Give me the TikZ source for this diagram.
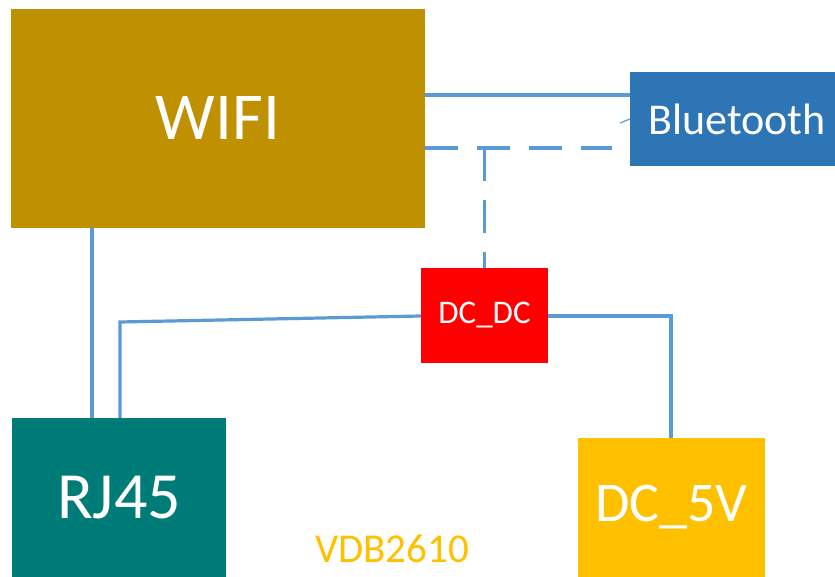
\documentclass[tikz,border=0pt]{standalone}
\usepackage{fontspec}
\setmainfont{Carlito}
\definecolor{wific}{HTML}{BF9000}
\definecolor{btc}{HTML}{2E75B6}
\definecolor{dcdcc}{HTML}{FF0000}
\definecolor{rjc}{HTML}{007C78}
\definecolor{fivec}{HTML}{FFC000}
\definecolor{linec}{HTML}{5B9BD5}
\tikzset{
  blk/.style={rectangle,inner sep=0pt,draw=none,text=white},
  wire/.style={draw=linec,line width=3.2pt},
  dwire/.style={wire,dash pattern=on 33pt off 19pt}
}
\begin{document}
\begin{tikzpicture}[x=1pt,y=-1pt]
\useasboundingbox[fill=white] (0,0) rectangle (835,577);
\node[blk,fill=wific,minimum width=414pt,minimum height=219pt,font=\fontsize{67}{72}\selectfont] (wifi) at (218,118.5) {WIFI};
\node[blk,fill=btc,minimum width=205pt,minimum height=94pt,font=\fontsize{44}{50}\selectfont] (bt) at (732.5,119) {\hspace*{9pt}Bluetooth};
\node[blk,fill=dcdcc,minimum width=127pt,minimum height=95pt,font=\fontsize{33}{38}\selectfont] (dcdc) at (484.5,315.5) {DC\_DC};
\node[blk,fill=rjc,minimum width=214pt,minimum height=159pt,font=\fontsize{66}{72}\selectfont] (rj) at (119,497.5) {RJ45};
\node[blk,fill=fivec,minimum width=187pt,minimum height=139pt,font=\fontsize{56}{62}\selectfont] (five) at (671.5,507.5) {DC\_5V};
\node[text=fivec,inner sep=0pt,font=\fontsize{41}{46}\selectfont] (vdb) at (392,549) {VDB2610};
\coordinate (dashend) at (612,148);
\coordinate (tickend) at (620,123);
\draw[wire] (wifi.east |- 0,95) -- (bt.west |- 0,95);
\draw[draw=linec,line width=1.2pt] (tickend) -- (bt.west |- 0,119);
\draw[dwire] (wifi.east |- dashend) -- (dashend);
\draw[dwire] (dcdc.north |- dashend) -- (dcdc.north);
\draw[wire] (wifi.south -| 92,0) -- (rj.north -| 92,0);
\draw[wire] (dcdc.west |- 0,316) -- (120,322) -- (rj.north -| 120,0);
\draw[wire] (dcdc.east |- 0,316) -- (671,316) -- (five.north -| 671,0);
\end{tikzpicture}
\end{document}
